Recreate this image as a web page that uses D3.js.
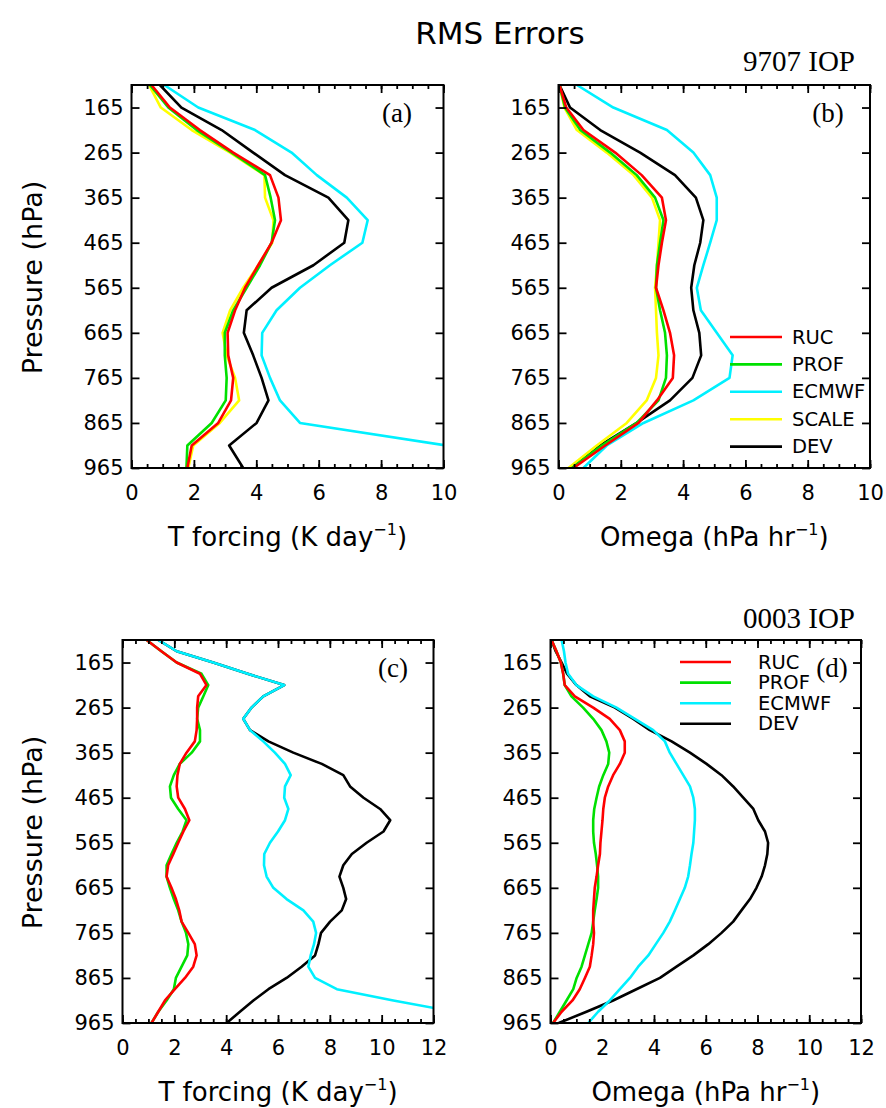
<!DOCTYPE html>
<html>
<head>
<meta charset="utf-8">
<script src="https://cdn.jsdelivr.net/npm/d3@7"></script>
<style>
  body { margin: 0; background: #fff; }
  svg { display: block; }
</style>
</head>
<body>
<svg id="fig" width="886" height="1108"></svg>
<script>
// ---- Pressure levels (hPa) ----
const levels50 = [115,165,215,265,315,365,415,465,515,565,615,665,715,765,815,865,915,965];
const levels25 = [115,140,165,190,215,240,265,290,315,340,365,390,415,440,465,490,515,540,
                  565,590,615,640,665,690,715,740,765,790,815,840,865,890,915,940,965];
const pressureTicks = [165,265,365,465,565,665,765,865,965];
const seriesNames = ["RUC","PROF","ECMWF","SCALE","DEV"];

// ---- 9707 IOP: T forcing RMS error (K/day) ----
const a_ruc   = [0.64,1.23,2.19,3.26,4.44,4.71,4.79,4.49,4.06,3.64,3.32,3.08,3.10,3.26,3.19,2.78,1.93,1.79];
const a_prof  = [0.59,1.18,2.09,3.21,4.28,4.46,4.60,4.49,4.12,3.69,3.26,2.99,2.99,3.05,3.02,2.57,1.79,1.76];
const a_ecmwf = [1.05,2.14,3.96,5.13,5.94,6.90,7.57,7.40,6.36,5.40,4.65,4.19,4.17,4.44,4.76,5.40,10.10,11.20];
const a_scale = [0.56,0.94,1.93,3.16,4.26,4.28,4.55,4.51,4.06,3.58,3.16,2.92,3.05,3.32,3.45,2.83,1.98,1.82];
const a_dev   = [0.91,1.60,2.89,3.90,4.92,6.31,6.95,6.82,5.83,4.49,3.69,3.60,3.90,4.17,4.39,4.01,3.13,3.58];

// ---- 9707 IOP: Omega RMS error (hPa/hr) ----
const b_ruc   = [0.03,0.25,0.80,1.82,2.67,3.32,3.45,3.32,3.21,3.13,3.37,3.58,3.71,3.67,3.16,2.57,1.50,0.48];
const b_prof  = [0.03,0.21,0.70,1.66,2.51,3.10,3.37,3.26,3.16,3.13,3.26,3.42,3.48,3.45,3.21,2.51,1.39,0.43];
const b_ecmwf = [0.59,1.76,3.48,4.33,4.87,5.08,5.08,4.87,4.65,4.44,4.57,5.08,5.59,5.49,4.33,2.73,1.55,0.80];
const b_scale = [0.03,0.19,0.59,1.55,2.41,3.00,3.26,3.21,3.16,3.10,3.13,3.16,3.21,3.13,2.83,2.19,1.23,0.32];
const b_dev   = [0.03,0.37,1.34,2.62,3.74,4.41,4.65,4.55,4.36,4.26,4.33,4.52,4.58,4.30,3.58,2.51,1.34,0.43];

// ---- 0003 IOP: T forcing RMS error (K/day) ----
const c_ruc   = [0.93,1.50,2.09,2.99,3.24,2.92,2.88,2.88,2.86,2.79,2.47,2.21,2.12,2.09,2.15,2.41,2.58,2.35,
                 2.15,1.96,1.76,1.70,1.89,2.06,2.19,2.28,2.54,2.79,2.86,2.73,2.41,2.02,1.64,1.38,1.12];
const c_prof  = [0.93,1.50,2.09,3.05,3.31,3.12,2.92,2.88,2.99,2.99,2.67,2.21,1.98,1.83,1.87,2.15,2.47,2.32,
                 2.09,1.89,1.70,1.70,1.83,1.98,2.15,2.28,2.45,2.54,2.50,2.28,2.06,1.98,1.70,1.38,1.12];
const c_ecmwf = [1.38,2.09,3.50,4.83,6.24,5.43,4.98,4.66,4.92,5.43,5.88,6.27,6.49,6.27,6.24,6.40,6.27,6.00,
                 5.69,5.47,5.46,5.56,5.82,6.33,6.98,7.36,7.47,7.39,7.26,7.17,7.43,8.27,10.45,12.80,13.50];
const c_dev   = [1.38,2.09,3.50,4.83,6.24,5.43,4.98,4.66,4.92,5.63,6.59,7.69,8.52,8.78,9.30,9.94,10.33,10.07,
                 9.42,8.85,8.52,8.37,8.52,8.63,8.46,8.01,7.66,7.56,7.43,6.91,6.33,5.63,5.05,4.53,4.02];

// ---- 0003 IOP: Omega RMS error (hPa/hr) ----
const d_ruc   = [0.04,0.23,0.40,0.49,0.55,0.94,1.65,2.29,2.68,2.87,2.87,2.68,2.42,2.23,2.10,2.04,2.01,1.97,
                 1.93,1.91,1.84,1.78,1.71,1.68,1.65,1.65,1.68,1.65,1.59,1.52,1.33,1.13,0.85,0.43,0.10];
const d_prof  = [0.04,0.23,0.40,0.49,0.55,0.81,1.26,1.65,1.97,2.16,2.27,2.23,2.04,1.88,1.78,1.69,1.65,1.65,
                 1.68,1.75,1.80,1.84,1.84,1.78,1.71,1.65,1.59,1.46,1.33,1.20,1.01,0.88,0.62,0.36,0.10];
const d_ecmwf = [0.43,0.52,0.58,0.68,1.00,1.65,2.55,3.26,3.97,4.42,4.61,4.87,5.13,5.39,5.52,5.58,5.58,5.55,
                 5.52,5.45,5.39,5.32,5.19,5.00,4.81,4.61,4.36,4.07,3.78,3.39,3.07,2.68,2.29,1.84,1.46];
const d_dev   = [0.04,0.20,0.43,0.64,1.00,1.52,2.49,3.20,3.84,4.68,5.39,6.03,6.61,7.06,7.45,7.84,8.03,8.29,
                 8.41,8.38,8.29,8.16,7.96,7.71,7.38,7.06,6.61,6.10,5.52,4.87,4.23,3.32,2.42,1.39,0.32];

// ---- Styling ----
const colors = { RUC: "#ff0000", PROF: "#00e000", ECMWF: "#00f0ff", SCALE: "#ffff00", DEV: "#000000" };
const sansFont = "'DejaVu Sans', 'Liberation Sans', sans-serif";
const serifFont = "'Liberation Serif', 'DejaVu Serif', serif";

const svg = d3.select("#fig");

// Figure title and case labels
svg.append("text").attr("x", 500).attr("y", 44).attr("text-anchor", "middle")
  .attr("font-family", sansFont).attr("font-size", 31).text("RMS Errors");
svg.append("text").attr("x", 855).attr("y", 71).attr("text-anchor", "end")
  .attr("font-family", serifFont).attr("font-size", 29).text("9707 IOP");
svg.append("text").attr("x", 855).attr("y", 628).attr("text-anchor", "end")
  .attr("font-family", serifFont).attr("font-size", 29).text("0003 IOP");

const panels = [
  { key: "a", left: 131.5, right: 443.5, top: 85, bottom: 468, xmax: 10, levels: levels50,
    series: { RUC: a_ruc, PROF: a_prof, ECMWF: a_ecmwf, SCALE: a_scale, DEV: a_dev },
    xlabel: ["T forcing (K day", ")"], tag: "(a)", tagPos: [397, 122], ylabel: true },
  { key: "b", left: 558.5, right: 870, top: 85, bottom: 468, xmax: 10, levels: levels50,
    series: { RUC: b_ruc, PROF: b_prof, ECMWF: b_ecmwf, SCALE: b_scale, DEV: b_dev },
    xlabel: ["Omega (hPa hr", ")"], tag: "(b)", tagPos: [828, 122],
    legend: { x0: 730, x1: 782, tx: 792, y0: 337, dy: 27.4, size: 19.5 } },
  { key: "c", left: 122.5, right: 433.5, top: 640, bottom: 1023, xmax: 12, levels: levels25,
    series: { RUC: c_ruc, PROF: c_prof, ECMWF: c_ecmwf, DEV: c_dev },
    xlabel: ["T forcing (K day", ")"], tag: "(c)", tagPos: [393, 677], ylabel: true },
  { key: "d", left: 550.5, right: 861, top: 640, bottom: 1023, xmax: 12, levels: levels25,
    series: { RUC: d_ruc, PROF: d_prof, ECMWF: d_ecmwf, DEV: d_dev },
    xlabel: ["Omega (hPa hr", ")"], tag: "(d)", tagPos: [832, 677],
    legend: { x0: 680, x1: 731, tx: 758, y0: 662, dy: 20.6, size: 19.5 } }
];

// Draw order: DEV underneath, observations on top
const drawOrder = ["DEV", "ECMWF", "SCALE", "PROF", "RUC"];

panels.forEach(p => {
  const x = d3.scaleLinear().domain([0, p.xmax]).range([p.left, p.right]);
  const y = d3.scaleLinear().domain([115, 965]).range([p.top, p.bottom]);
  const g = svg.append("g").attr("class", "panel-" + p.key);

  const clipId = "clip-" + p.key;
  svg.append("clipPath").attr("id", clipId).append("rect")
    .attr("x", p.left).attr("y", p.top)
    .attr("width", p.right - p.left).attr("height", p.bottom - p.top);

  const line = d3.line().x(d => x(d[0])).y(d => y(d[1]));

  const plot = g.append("g").attr("clip-path", `url(#${clipId})`);
  drawOrder.filter(n => p.series[n]).forEach(n => {
    const pts = p.series[n].map((v, i) => [v, p.levels[i]]);
    plot.append("path").datum(pts)
      .attr("fill", "none").attr("stroke", colors[n])
      .attr("stroke-width", 2.6).attr("stroke-linejoin", "round")
      .attr("d", line);
  });

  // Axes: majors every 2 units, minors every 0.5, all ticks inward
  const majors = x.ticks(p.xmax / 2);
  const minors = x.ticks(p.xmax * 2);
  const styleAxis = sel => {
    sel.select(".domain").remove();
    sel.selectAll("line").attr("stroke", "#000").attr("stroke-width", 1.8);
    sel.selectAll("text").attr("font-family", sansFont).attr("font-size", 21).attr("fill", "#000");
  };

  g.append("g").attr("transform", `translate(0,${p.bottom})`)
    .call(d3.axisBottom(x).tickValues(minors).tickSizeInner(-4).tickSizeOuter(0).tickFormat(""))
    .call(styleAxis);
  g.append("g").attr("transform", `translate(0,${p.bottom})`)
    .call(d3.axisBottom(x).tickValues(majors).tickSizeInner(-8).tickSizeOuter(0)
      .tickPadding(17).tickFormat(d3.format("d")))
    .call(styleAxis);
  g.append("g").attr("transform", `translate(0,${p.top})`)
    .call(d3.axisTop(x).tickValues(minors).tickSizeInner(-4).tickSizeOuter(0).tickFormat(""))
    .call(styleAxis);
  g.append("g").attr("transform", `translate(0,${p.top})`)
    .call(d3.axisTop(x).tickValues(majors).tickSizeInner(-8).tickSizeOuter(0).tickFormat(""))
    .call(styleAxis);
  g.append("g").attr("transform", `translate(${p.left},0)`)
    .call(d3.axisLeft(y).tickValues(pressureTicks).tickSizeInner(-8).tickSizeOuter(0)
      .tickPadding(8).tickFormat(d3.format("d")))
    .call(styleAxis);
  g.append("g").attr("transform", `translate(${p.right},0)`)
    .call(d3.axisRight(y).tickValues(pressureTicks).tickSizeInner(-8).tickSizeOuter(0).tickFormat(""))
    .call(styleAxis);

  g.append("rect")
    .attr("x", p.left).attr("y", p.top)
    .attr("width", p.right - p.left).attr("height", p.bottom - p.top)
    .attr("fill", "none").attr("stroke", "#000").attr("stroke-width", 2);

  // X-axis title with superscript -1
  const xt = g.append("text")
    .attr("x", (p.left + p.right) / 2).attr("y", p.bottom + 78)
    .attr("text-anchor", "middle").attr("font-family", sansFont).attr("font-size", 26);
  xt.append("tspan").text(p.xlabel[0]);
  xt.append("tspan").attr("dy", -11).attr("font-size", 16).text("\u22121");
  xt.append("tspan").attr("dy", 11).text(p.xlabel[1]);

  if (p.ylabel) {
    const cy = (p.top + p.bottom) / 2 + 1;
    g.append("text")
      .attr("transform", `translate(32,${cy}) rotate(-90)`)
      .attr("text-anchor", "middle").attr("dominant-baseline", "central")
      .attr("font-family", sansFont).attr("font-size", 27)
      .text("Pressure (hPa)");
  }

  g.append("text").attr("x", p.tagPos[0]).attr("y", p.tagPos[1])
    .attr("text-anchor", "middle").attr("font-family", serifFont).attr("font-size", 27)
    .text(p.tag);

  if (p.legend) {
    const L = p.legend;
    const names = seriesNames.filter(n => p.series[n]);
    const lg = g.append("g");
    names.forEach((n, i) => {
      const yy = L.y0 + i * L.dy;
      lg.append("line").attr("x1", L.x0).attr("x2", L.x1).attr("y1", yy).attr("y2", yy)
        .attr("stroke", colors[n]).attr("stroke-width", 2.6);
      lg.append("text").attr("x", L.tx).attr("y", yy).attr("dominant-baseline", "central")
        .attr("font-family", sansFont).attr("font-size", L.size).text(n);
    });
  }
});
</script>
</body>
</html>
